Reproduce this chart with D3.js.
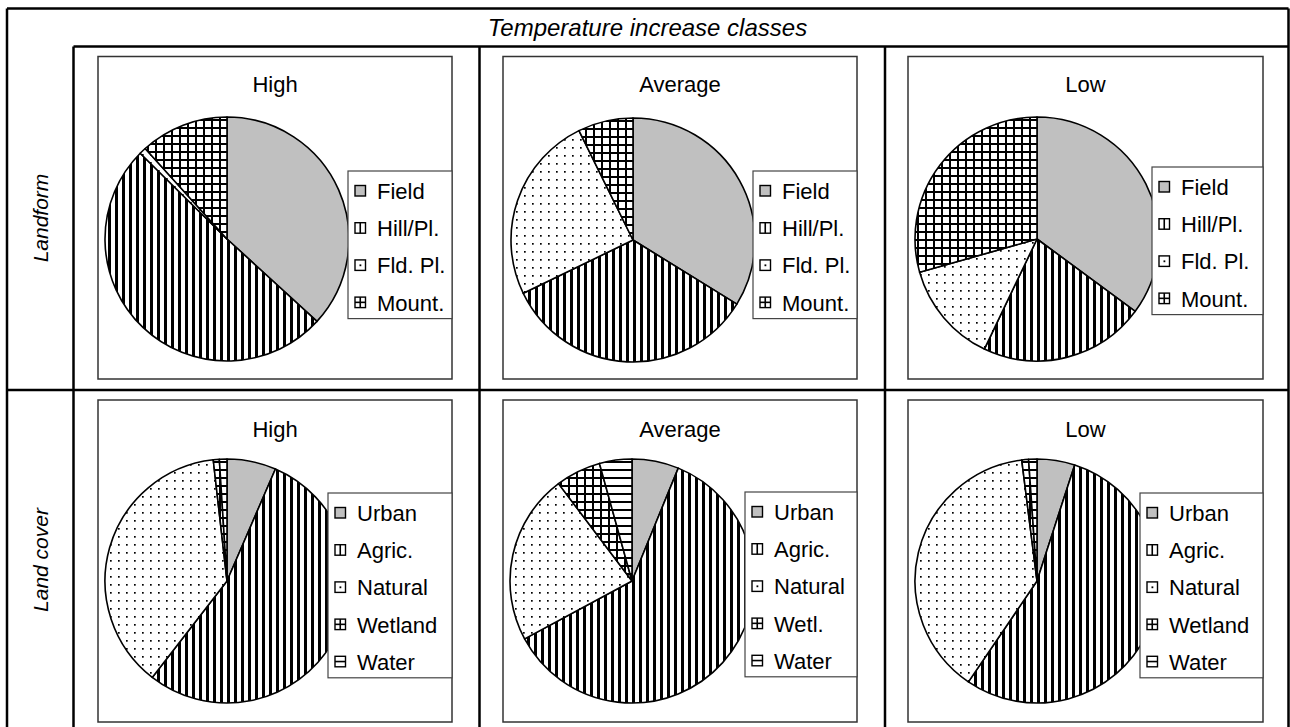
<!DOCTYPE html>
<html>
<head>
<meta charset="utf-8">
<script src="https://cdn.jsdelivr.net/npm/d3@7"></script>
<style>
  html, body { margin: 0; padding: 0; background: #fff; }
  svg { display: block; }
  text { font-family: Arial, "Liberation Sans", sans-serif; fill: #000; }
</style>
</head>
<body>
<svg id="chart" width="1290" height="727"></svg>
<script>
// ---------- data ----------
const headerTitle = "Temperature increase classes";
const rowLabels = ["Landform", "Land cover"];
const columnTitles = ["High", "Average", "Low"];

const landformLabels = ["Field", "Hill/Pl.", "Fld. Pl.", "Mount."];
const landformPatterns = ["gray", "vert", "dots", "grid"];
const landformHigh = [36.8, 50.6, 0.9, 11.7];
const landformAverage = [33.8, 34.0, 24.9, 7.3];
const landformLow = [35.1, 22.0, 13.5, 29.4];

const landcoverLabels = ["Urban", "Agric.", "Natural", "Wetland", "Water"];
const landcoverLabelsAverage = ["Urban", "Agric.", "Natural", "Wetl.", "Water"];
const landcoverPatterns = ["gray", "vert", "dots", "grid", "horiz"];
const landcoverHigh = [6.5, 54.0, 37.7, 0.8, 1.0];
const landcoverAverage = [6.2, 61.0, 22.6, 6.0, 4.3];
const landcoverLow = [5.0, 54.5, 38.5, 0.9, 1.1];

// ---------- layout ----------
const svg = d3.select("#chart");
const defs = svg.append("defs");

function pat(id, w, h, build) {
  const p = defs.append("pattern").attr("id", id)
    .attr("patternUnits", "userSpaceOnUse").attr("width", w).attr("height", h);
  p.append("rect").attr("width", w).attr("height", h).attr("fill", "#fff");
  build(p);
}
pat("vert", 7, 7, p => p.append("rect").attr("x", 0).attr("width", 3).attr("height", 7).attr("fill", "#000"));
pat("dots", 8, 8, p => p.append("rect").attr("x", 3).attr("y", 3).attr("width", 1.7).attr("height", 1.7).attr("fill", "#000"));
pat("grid", 8, 8, p => {
  p.append("rect").attr("x", 0).attr("width", 2).attr("height", 8).attr("fill", "#000");
  p.append("rect").attr("y", 0).attr("width", 8).attr("height", 2).attr("fill", "#000");
});
pat("horiz", 8, 8, p => p.append("rect").attr("y", 0).attr("width", 8).attr("height", 2).attr("fill", "#000"));

const fillOf = k => k === "gray" ? "#c0c0c0" : `url(#${k})`;

// table grid
const T = { left: 7, right: 1288.5, top: 8.5, bottom: 740, headBottom: 46.5, labelRight: 73.5, rowDiv: 390, cols: [479.5, 885] };
const grid = svg.append("g").attr("stroke", "#000").attr("stroke-width", 2.5).attr("fill", "none");
grid.append("line").attr("x1", T.left).attr("x2", T.right).attr("y1", T.top).attr("y2", T.top);
grid.append("line").attr("x1", T.left).attr("x2", T.left).attr("y1", T.top).attr("y2", T.bottom);
grid.append("line").attr("x1", T.right).attr("x2", T.right).attr("y1", T.top).attr("y2", T.bottom);
grid.append("line").attr("x1", T.labelRight).attr("x2", T.right).attr("y1", T.headBottom).attr("y2", T.headBottom);
grid.append("line").attr("x1", T.labelRight).attr("x2", T.labelRight).attr("y1", T.headBottom).attr("y2", T.bottom);
grid.append("line").attr("x1", T.left).attr("x2", T.right).attr("y1", T.rowDiv).attr("y2", T.rowDiv);
T.cols.forEach(x => grid.append("line").attr("x1", x).attr("x2", x).attr("y1", T.headBottom).attr("y2", T.bottom));

svg.append("text").attr("x", 647.5).attr("y", 36).attr("text-anchor", "middle")
  .attr("font-size", 24).attr("font-style", "italic").text(headerTitle);

const rowCenters = [218, 560];
rowLabels.forEach((l, i) => {
  svg.append("text").attr("transform", `translate(48,${rowCenters[i]}) rotate(-90)`)
    .attr("text-anchor", "middle").attr("font-size", 21).attr("font-style", "italic").text(l);
});

const colBoxes = [[98, 452], [503, 857], [908, 1263]];
const rowBoxes = [[56.5, 379], [400, 722]];
const pieCenters = [[[227, 239], [633, 240], [1037, 239]], [[227, 581], [632, 581], [1037, 581]]];
const legendPos = [[[348, 171], [753, 171], [1152, 167]], [[328, 493], [745, 492], [1140, 493]]];
const titleBase = [92, 437];
const R = 122;

const panels = [
  { row: 0, col: 0, values: landformHigh, labels: landformLabels, pats: landformPatterns },
  { row: 0, col: 1, values: landformAverage, labels: landformLabels, pats: landformPatterns },
  { row: 0, col: 2, values: landformLow, labels: landformLabels, pats: landformPatterns },
  { row: 1, col: 0, values: landcoverHigh, labels: landcoverLabels, pats: landcoverPatterns },
  { row: 1, col: 1, values: landcoverAverage, labels: landcoverLabelsAverage, pats: landcoverPatterns },
  { row: 1, col: 2, values: landcoverLow, labels: landcoverLabels, pats: landcoverPatterns }
];

const pie = d3.pie().sort(null).value(d => d.v);
const arc = d3.arc().innerRadius(0).outerRadius(R);

panels.forEach(p => {
  const [x0, x1] = colBoxes[p.col];
  const [y0, y1] = rowBoxes[p.row];
  const g = svg.append("g");
  g.append("rect").attr("x", x0).attr("y", y0).attr("width", x1 - x0).attr("height", y1 - y0)
    .attr("fill", "#fff").attr("stroke", "#333").attr("stroke-width", 1.5);
  g.append("text").attr("x", (x0 + x1) / 2).attr("y", titleBase[p.row]).attr("text-anchor", "middle")
    .attr("font-size", 22).text(columnTitles[p.col]);

  const data = p.values.map((v, i) => ({ v, pat: p.pats[i], label: p.labels[i] }));
  const [cx, cy] = pieCenters[p.row][p.col];
  const pg = g.append("g").attr("transform", `translate(${cx},${cy})`);
  pg.selectAll("path").data(pie(data)).join("path")
    .attr("d", arc).attr("fill", d => fillOf(d.data.pat))
    .attr("stroke", "#000").attr("stroke-width", 1.6).attr("stroke-linejoin", "round");

  // legend
  const [lx, ly] = legendPos[p.row][p.col];
  const step = 37.2;
  const lh = 28 + (data.length - 1) * step + 8;
  const lg = g.append("g");
  lg.append("rect").attr("x", lx).attr("y", ly).attr("width", x1 - lx).attr("height", lh)
    .attr("fill", "#fff").attr("stroke", "#444").attr("stroke-width", 1.2);
  data.forEach((d, i) => {
    const base = ly + 28 + i * step;
    const s = 10.5, sx = lx + 7, sy = base - 13.5;
    lg.append("rect").attr("x", sx).attr("y", sy).attr("width", s).attr("height", s)
      .attr("fill", d.pat === "gray" ? "#c0c0c0" : "#fff").attr("stroke", "#000").attr("stroke-width", 1.4);
    if (d.pat === "vert" || d.pat === "grid")
      lg.append("line").attr("x1", sx + s / 2).attr("x2", sx + s / 2).attr("y1", sy).attr("y2", sy + s).attr("stroke", "#000").attr("stroke-width", 1.6);
    if (d.pat === "horiz" || d.pat === "grid")
      lg.append("line").attr("x1", sx).attr("x2", sx + s).attr("y1", sy + s / 2).attr("y2", sy + s / 2).attr("stroke", "#000").attr("stroke-width", 1.6);
    if (d.pat === "dots")
      lg.append("rect").attr("x", sx + 4.5).attr("y", sy + 4.5).attr("width", 1.8).attr("height", 1.8).attr("fill", "#000");
    lg.append("text").attr("x", lx + 29).attr("y", base).attr("font-size", 22).text(d.label);
  });
});
</script>
</body>
</html>
